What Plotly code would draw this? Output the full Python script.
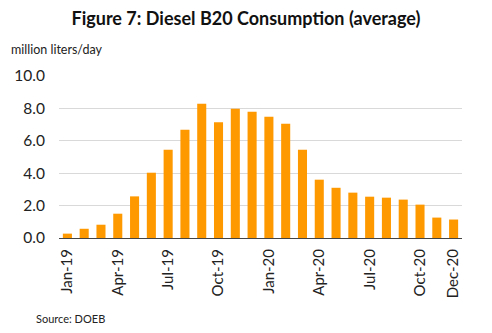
import plotly.graph_objects as go

months = ["Jan-19","Feb-19","Mar-19","Apr-19","May-19","Jun-19","Jul-19","Aug-19","Sep-19","Oct-19","Nov-19","Dec-19",
          "Jan-20","Feb-20","Mar-20","Apr-20","May-20","Jun-20","Jul-20","Aug-20","Sep-20","Oct-20","Nov-20","Dec-20"]
values = [0.27, 0.57, 0.82, 1.50, 2.57, 4.03, 5.45, 6.68, 8.29, 7.14, 7.98, 7.80,
          7.49, 7.06, 5.45, 3.60, 3.10, 2.80, 2.55, 2.49, 2.37, 2.06, 1.26, 1.14]
tick_labels = ["Jan-19","Apr-19","Jul-19","Oct-19","Jan-20","Apr-20","Jul-20","Oct-20","Dec-20"]
y_ticks = [0, 2, 4, 6, 8, 10]

FONT = "Lato"

fig = go.Figure(go.Bar(x=months, y=values, marker_color="#FF9900", marker_line_width=0))

fig.update_layout(
    width=492, height=333,
    margin=dict(l=59, r=30, t=76, b=95),
    paper_bgcolor="white", plot_bgcolor="white",
    bargap=0.46,
    showlegend=False,
    font=dict(family=FONT, color="#222"),
    title=dict(text="<b>Figure 7: Diesel B20 Consumption (average)</b>", x=0.5, xanchor="center",
               y=1 - 19/333, yanchor="middle", font=dict(size=18, family=FONT, color="#111")),
    annotations=[
        dict(text="million liters/day", xref="paper", yref="paper", x=-(59-9)/403, y=1 + (76-50)/162,
             xanchor="left", yanchor="middle", showarrow=False, font=dict(size=12.5, family=FONT, color="#222")),
        dict(text="Source: DOEB", xref="paper", yref="paper", x=-(59-34)/403, y=-(318-238)/162,
             xanchor="left", yanchor="middle", showarrow=False, font=dict(size=11, family=FONT, color="#222")),
    ],
)
fig.update_xaxes(
    type="category", tickmode="array", tickvals=tick_labels, ticktext=tick_labels,
    tickangle=-90, tickfont=dict(size=15, family=FONT, color="#222"),
    showline=True, linecolor="#444", linewidth=1, showgrid=False, ticks="",
    ticklabelstandoff=4,
)
fig.update_yaxes(
    range=[0, 10], tickvals=y_ticks, tickformat=".1f",
    tickfont=dict(size=15.5, family=FONT, color="#222"),
    showgrid=True, gridcolor="#D9D9D9", gridwidth=1, zeroline=False, showline=False, ticks="",
    ticklabelstandoff=13,
)

fig.write_html("out.html")
